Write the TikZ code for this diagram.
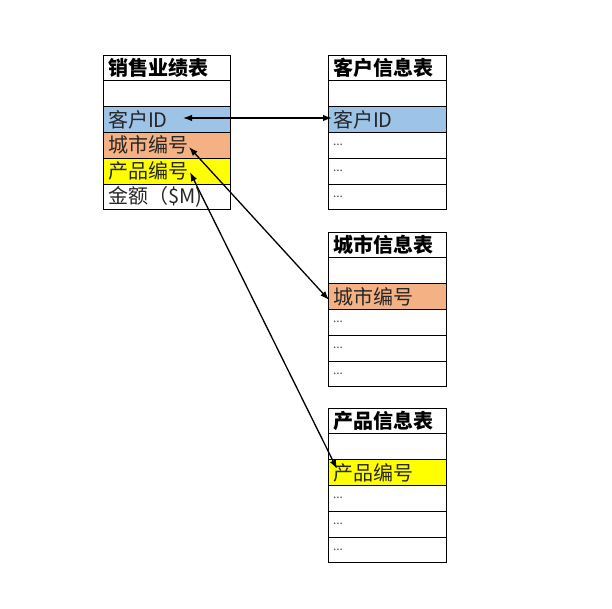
\documentclass[tikz,border=0pt]{standalone}
\usepackage{fontspec}
\setmainfont{Noto Sans CJK SC}
\usetikzlibrary{arrows.meta}
\definecolor{cblue}{HTML}{9DC3E6}
\definecolor{corange}{HTML}{F4B183}
\definecolor{cyellow}{HTML}{FFFF00}
\definecolor{ctext}{HTML}{262626}
\tikzset{
  x=1pt, y=-1pt,
  cellL/.style={draw=black, line width=0.9pt, rectangle, anchor=north west,
    text width=117pt, minimum height=25.8pt, inner xsep=5pt, inner ysep=0pt, outer sep=0pt,
    align=left, font=\fontsize{20}{22}\selectfont, text=ctext},
  cellR/.style={cellL, text width=108pt},
  headcell/.style={font=\fontsize{20}{22}\selectfont\bfseries, text=black},
  dots/.style={font=\fontsize{12}{14}\selectfont, text=ctext!80},
  link/.style={line width=1.3pt, black, {Latex[length=9pt,width=6.5pt]}-{Latex[length=9pt,width=6.5pt]}}
}
\begin{document}
\begin{tikzpicture}
\useasboundingbox (0,0) rectangle (612,609);
% left table
\node[cellL, headcell] (L0) at (103,55) {销售业绩表};
\node[cellL] (L1) at (L0.south west) {\strut};
\node[cellL, fill=cblue] (L2) at (L1.south west) {客户ID};
\node[cellL, fill=corange] (L3) at (L2.south west) {城市编号};
\node[cellL, fill=cyellow] (L4) at (L3.south west) {产品编号};
\node[cellL] (L5) at (L4.south west) {金额（\$M)};
% customer table
\node[cellR, headcell] (C0) at (328,55) {客户信息表};
\node[cellR] (C1) at (C0.south west) {\strut};
\node[cellR, fill=cblue] (C2) at (C1.south west) {客户ID};
\node[cellR, dots] (C3) at (C2.south west) {...};
\node[cellR, dots] (C4) at (C3.south west) {...};
\node[cellR, dots] (C5) at (C4.south west) {...};
% city table
\node[cellR, headcell] (T0) at (328,232) {城市信息表};
\node[cellR] (T1) at (T0.south west) {\strut};
\node[cellR, fill=corange] (T2) at (T1.south west) {城市编号};
\node[cellR, dots] (T3) at (T2.south west) {...};
\node[cellR, dots] (T4) at (T3.south west) {...};
\node[cellR, dots] (T5) at (T4.south west) {...};
% product table
\node[cellR, headcell] (P0) at (328,408) {产品信息表};
\node[cellR] (P1) at (P0.south west) {\strut};
\node[cellR, fill=cyellow] (P2) at (P1.south west) {产品编号};
\node[cellR, dots] (P3) at (P2.south west) {...};
\node[cellR, dots] (P4) at (P3.south west) {...};
\node[cellR, dots] (P5) at (P4.south west) {...};
% links
\draw[link] ([xshift=80pt,yshift=1.5pt]L2.west) -- ([xshift=4pt,yshift=1.5pt]C2.west);
\draw[link] ([xshift=86pt,yshift=-1.7pt]L3.west) -- ([xshift=1pt,yshift=-3.5pt]T2.west);
\draw[link] ([xshift=87pt,yshift=-1pt]L4.west) -- ([xshift=9pt,yshift=3.5pt]P2.west);
\end{tikzpicture}
\end{document}
